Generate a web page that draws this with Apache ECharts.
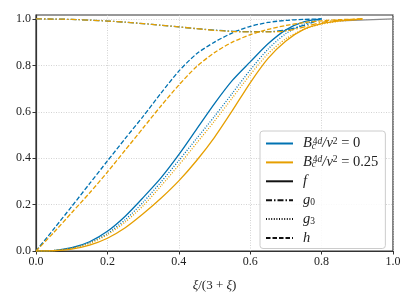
<!DOCTYPE html>
<html>
<head>
<meta charset="utf-8">
<script src="https://cdn.jsdelivr.net/npm/echarts@6/dist/echarts.min.js"></script>
<style>html,body{margin:0;padding:0;background:#fff}#c{width:415px;height:297px}</style>
</head>
<body>
<div id="c"></div>
<script>
// x = xi/(3+xi)
const xBlue   = [0, 0.05, 0.1, 0.15, 0.2, 0.25, 0.3, 0.35, 0.4, 0.45, 0.5, 0.55, 0.6, 0.65, 0.7, 0.75, 0.8];
const fBlue   = [0, 0.002, 0.014, 0.04, 0.085, 0.15, 0.23, 0.315, 0.415, 0.525, 0.635, 0.735, 0.815, 0.893, 0.953, 0.987, 1.0];
const g0Blue  = [1.0, 0.9995, 0.998, 0.995, 0.991, 0.986, 0.98, 0.973, 0.966, 0.958, 0.952, 0.947, 0.945, 0.945, 0.952, 0.972, 1.0];
const g3Blue  = [0, 0.002, 0.012, 0.035, 0.075, 0.135, 0.21, 0.297, 0.39, 0.485, 0.58, 0.68, 0.78, 0.87, 0.937, 0.977, 1.0];
const hBlue   = [0, 0.095, 0.192, 0.29, 0.388, 0.485, 0.58, 0.68, 0.775, 0.85, 0.9, 0.94, 0.968, 0.985, 0.994, 0.998, 1.0];

const xOrange  = [0, 0.05, 0.1, 0.15, 0.2, 0.25, 0.3, 0.35, 0.4, 0.45, 0.5, 0.55, 0.6, 0.65, 0.7, 0.75, 0.8, 0.85, 0.9, 0.915];
const fOrange  = [0, 0.001, 0.008, 0.025, 0.055, 0.1, 0.16, 0.227, 0.302, 0.39, 0.49, 0.605, 0.725, 0.83, 0.905, 0.955, 0.98, 0.992, 0.998, 1.0];
const g0Orange = [1.0, 0.9995, 0.998, 0.995, 0.991, 0.986, 0.98, 0.973, 0.966, 0.958, 0.951, 0.946, 0.944, 0.944, 0.948, 0.965, 0.985, 0.995, 0.999, 1.0];
const g3Orange = [0, 0.002, 0.012, 0.033, 0.07, 0.125, 0.195, 0.28, 0.37, 0.465, 0.56, 0.66, 0.76, 0.85, 0.915, 0.955, 0.978, 0.99, 0.998, 1.0];
const hOrange  = [0, 0.08, 0.165, 0.25, 0.34, 0.435, 0.53, 0.625, 0.715, 0.795, 0.855, 0.9, 0.932, 0.955, 0.972, 0.984, 0.992, 0.997, 0.999, 1.0];

const xGray = [0.85, 1.0];
const yGray = [0.992, 1.0];

const xTicks = [0, 0.2, 0.4, 0.6, 0.8, 1.0];
const yTicks = [0, 0.2, 0.4, 0.6, 0.8, 1.0];

const legendNames = ['B0', 'B025', 'f', 'g0', 'g3', 'h'];

const BLUE = '#0072B2', ORANGE = '#E69F00', GRAY = '#8c8c8c';
const SOLID = 'solid', DASHDOT = [6, 2, 1.5, 2], DOTTED = [1, 1.6], DASHED = [4.5, 2];

function pts(xs, ys) { return xs.map((x, i) => [x, ys[i]]); }
function curve(name, xs, ys, color, type, z) {
  return {
    name: name, type: 'line', data: pts(xs, ys), showSymbol: false, symbol: 'none',
    smooth: 0.25, z: z || 2, silent: true,
    lineStyle: { color: color, width: 1.3, type: type }, itemStyle: { color: color }
  };
}
function dummy(name, color, type) {
  return { name: name, type: 'line', data: [], symbol: 'none', showSymbol: false,
    lineStyle: { color: color, width: 1.6, type: type }, itemStyle: { color: color } };
}

const chart = echarts.init(document.getElementById('c'), null, { renderer: 'canvas' });
const serif = 'Liberation Serif';
const FS = 14.5, SS = 9.5;
const rich = {
  i: { fontFamily: serif, fontStyle: 'italic', fontSize: FS, color: '#222', lineHeight: 15, verticalAlign: 'middle' },
  r: { fontFamily: serif, fontSize: FS, color: '#222', lineHeight: 15, verticalAlign: 'middle' },
  sp: { fontFamily: serif, fontStyle: 'italic', fontSize: SS, color: '#222', lineHeight: 15, verticalAlign: 'top' },
  spr: { fontFamily: serif, fontSize: SS, color: '#222', lineHeight: 15, verticalAlign: 'top' },
  sb: { fontFamily: serif, fontStyle: 'italic', fontSize: SS, color: '#222', lineHeight: 15, verticalAlign: 'bottom', width: 1 },
  sbr: { fontFamily: serif, fontSize: SS, color: '#222', lineHeight: 15, verticalAlign: 'bottom' },
  xi: { fontFamily: serif, fontStyle: 'italic', fontSize: 13, color: '#222' },
  xr: { fontFamily: serif, fontSize: 13, color: '#222' }
};
const legendLabels = {
  B0: '{i|B}{sb|c}{spr|4}{sp|d}{i|/v}{spr|2}{r| = 0}',
  B025: '{i|B}{sb|c}{spr|4}{sp|d}{i|/v}{spr|2}{r| = 0.25}',
  f: '{i|f}',
  g0: '{i|g}{sbr|0}',
  g3: '{i|g}{sbr|3}',
  h: '{i|h}'
};

const series = [
  curve('fb', xBlue, fBlue, BLUE, SOLID),
  curve('g0b', xBlue, g0Blue, BLUE, DASHDOT),
  curve('g3b', xBlue, g3Blue, BLUE, DOTTED),
  curve('hb', xBlue, hBlue, BLUE, DASHED),
  curve('fo', xOrange, fOrange, ORANGE, SOLID, 3),
  curve('g0o', xOrange, g0Orange, ORANGE, DASHDOT, 3),
  curve('g3o', xOrange, g3Orange, ORANGE, DOTTED, 3),
  curve('ho', xOrange, hOrange, ORANGE, DASHED, 3),
  curve('gray', xGray, yGray, GRAY, SOLID, 1),
  dummy('B0', BLUE, SOLID),
  dummy('B025', ORANGE, SOLID),
  dummy('f', '#111', SOLID),
  dummy('g0', '#111', DASHDOT),
  dummy('g3', '#111', DOTTED),
  dummy('h', '#111', DASHED)
];

chart.setOption({
  animation: false,
  backgroundColor: '#fff',
  grid: { left: 36, right: 22, top: 15, bottom: 41, show: true, borderColor: '#333', borderWidth: 1.2, backgroundColor: 'transparent' },
  xAxis: {
    type: 'value', min: 0, max: 1, interval: 0.2,
    name: '{xi|ξ}{xr|/(3 + }{xi|ξ}{xr|)}', nameLocation: 'middle', nameGap: 28,
    nameTextStyle: { rich: rich },
    axisLine: { show: true, onZero: false, lineStyle: { color: '#333', width: 1.2 } },
    axisTick: { show: true, inside: false, length: 3.5, lineStyle: { color: '#333', width: 1 } },
    axisLabel: { margin: 5, fontFamily: serif, fontSize: 12, color: '#222',
      customValues: xTicks, formatter: v => v.toFixed(1) },
    splitLine: { show: true, lineStyle: { color: '#c8c8c8', width: 0.8, type: [1, 1.5] } }
  },
  yAxis: {
    type: 'value', min: 0, max: 1.017, interval: 0.2,
    axisLine: { show: true, onZero: false, lineStyle: { color: '#333', width: 1.2 } },
    axisTick: { show: true, inside: false, length: 3.5, customValues: yTicks, lineStyle: { color: '#333', width: 1 } },
    axisLabel: { margin: 5, fontFamily: serif, fontSize: 12, color: '#222',
      customValues: yTicks, formatter: v => v.toFixed(1) },
    splitLine: { show: true, lineStyle: { color: '#c8c8c8', width: 0.8, type: [1, 1.5] } }
  },
  legend: {
    data: legendNames, orient: 'vertical', left: 260, top: 131,
    itemWidth: 27, itemHeight: 10, itemGap: 3.9,
    padding: [5, 7, 3, 5],
    itemStyle: { opacity: 0, borderWidth: 0 },
    backgroundColor: 'rgba(255,255,255,0.85)', borderColor: '#cccccc', borderWidth: 1, borderRadius: 3,
    selectedMode: false,
    formatter: n => legendLabels[n],
    textStyle: { rich: rich, padding: [0, 0, 0, 5], lineHeight: 15 }
  },
  series: series
});
</script>
</body>
</html>
